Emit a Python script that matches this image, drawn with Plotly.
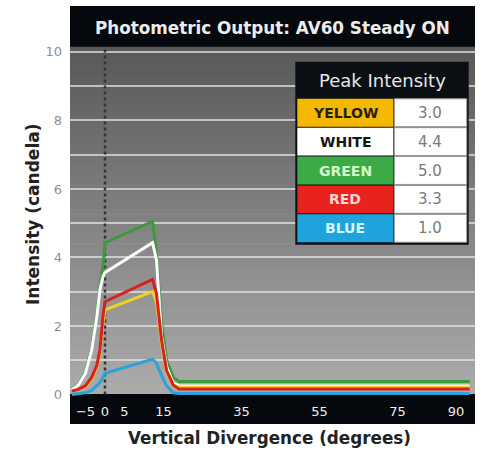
import plotly.graph_objects as go

# ---------------- data ----------------
degrees = [-8.5, -6.8, -5.0, -3.4, -2.1, -1.3, -0.5, 0.0, 12.2, 13.2, 14.5, 15.8, 17.5, 19.0, 93.5]
green  = [0.15, 0.30, 0.66, 1.35, 2.35, 3.15, 3.75, 4.43, 5.05, 4.10, 2.10, 1.00, 0.50, 0.38, 0.38]
white  = [0.13, 0.28, 0.62, 1.30, 2.27, 3.05, 3.45, 3.56, 4.43, 3.93, 1.69, 0.81, 0.33, 0.25, 0.25]
yellow = [0.10, 0.14, 0.24, 0.45, 0.80, 1.20, 2.10, 2.47, 3.00, 2.70, 1.50, 0.65, 0.27, 0.21, 0.21]
red    = [0.10, 0.15, 0.26, 0.50, 0.85, 1.30, 2.30, 2.71, 3.36, 2.95, 1.60, 0.70, 0.28, 0.16, 0.16]
blue   = [0.00, 0.02, 0.05, 0.12, 0.25, 0.35, 0.50, 0.62, 1.03, 0.91, 0.55, 0.25, 0.05, 0.03, 0.03]

x_ticks = [-5, 0, 5, 15, 35, 55, 75, 90]
y_ticks = [0, 1, 2, 3, 4, 5, 6, 7, 8, 9, 10]
y_ticktext = ["0", "", "2", "", "4", "", "6", "", "8", "", "10"]

table_names = ["YELLOW", "WHITE", "GREEN", "RED", "BLUE"]
table_peaks = ["3.0", "4.4", "5.0", "3.3", "1.0"]
table_fill = ["#f4b800", "#ffffff", "#3daa48", "#e8221c", "#1fa3dc"]
table_text = ["#2a2000", "#151515", "#d2f7cc", "#ffd6d2", "#d4f6ff"]

title_text = "Photometric Output: AV60 Steady ON"
x_title = "Vertical Divergence (degrees)"
y_title = "Intensity (candela)"

# ---------------- layout geometry ----------------
W, H = 487, 452
PL, PR, PT, PB = 70, 475, 6, 424
X_RANGE = [-8.97, 94.87]
Y_RANGE = [-0.861, 11.34]
TITLE_BAR_Y = 10.15
FONT = "DejaVu Sans"


def px(xp):
    return (xp - PL) / (PR - PL)


def py(yp):
    return (PB - yp) / (PB - PT)


fig = go.Figure()

series = [
    ("GREEN", green, "#3c9a3c"),
    ("WHITE", white, "#ffffff"),
    ("YELLOW", yellow, "#f2d21c"),
    ("RED", red, "#d8211e"),
    ("BLUE", blue, "#29a3db"),
]
for name, vals, col in series:
    fig.add_trace(go.Scatter(x=degrees, y=vals, mode="lines", name=name,
                             line=dict(color=col, width=3), showlegend=False,
                             hoverinfo="skip"))

shapes = []
# vertical gradient background
n = 60
c_bot, c_top = 172, 88
for i in range(n):
    y0 = TITLE_BAR_Y * i / n
    y1 = TITLE_BAR_Y * (i + 1) / n + 0.02
    v = round(c_bot + (c_top - c_bot) * (i + 0.5) / n)
    shapes.append(dict(type="rect", xref="x domain", yref="y", x0=0, x1=1,
                       y0=y0, y1=y1, fillcolor=f"rgb({v},{v},{v})",
                       line=dict(width=0), layer="below"))
# title bar
shapes.append(dict(type="rect", xref="x domain", yref="y domain", x0=0, x1=1,
                   y0=(TITLE_BAR_Y - Y_RANGE[0]) / (Y_RANGE[1] - Y_RANGE[0]), y1=1,
                   fillcolor="#05090d", line=dict(width=0), layer="below"))
# x axis bar
shapes.append(dict(type="rect", xref="x domain", yref="y", x0=0, x1=1,
                   y0=Y_RANGE[0], y1=0, fillcolor="#05090d",
                   line=dict(width=0), layer="below"))
# dashed line at 0
shapes.append(dict(type="line", xref="x", yref="y", x0=0, x1=0, y0=0, y1=TITLE_BAR_Y,
                   line=dict(color="#353535", width=2.5, dash="dot"), layer="between"))

# table
T_L, T_M, T_R = 297.3, 393.3, 466.7
T_TOP, T_HEAD = 61.7, 98.3
T_BOT = 242.7
row_h = (T_BOT - T_HEAD) / len(table_names)
shapes.append(dict(type="rect", xref="paper", yref="paper",
                   x0=px(T_L - 2), x1=px(T_R + 2), y0=py(T_BOT + 2), y1=py(T_TOP),
                   fillcolor="#0b0f14", line=dict(width=0), layer="above"))
annotations = []
annotations.append(dict(xref="paper", yref="paper", x=px((T_L + T_R) / 2),
                        y=py((T_TOP + T_HEAD) / 2), xanchor="center", yanchor="middle",
                        text="Peak Intensity", showarrow=False,
                        font=dict(family=FONT, size=18, color="#e6e6e6")))
for i, (nm, pk, fc, tc) in enumerate(zip(table_names, table_peaks, table_fill, table_text)):
    top = T_HEAD + i * row_h
    bot = top + row_h
    shapes.append(dict(type="rect", xref="paper", yref="paper",
                       x0=px(T_L), x1=px(T_M), y0=py(bot - 0.5), y1=py(top + 0.5),
                       fillcolor=fc, line=dict(width=0), layer="above"))
    shapes.append(dict(type="rect", xref="paper", yref="paper",
                       x0=px(T_M + 1), x1=px(T_R), y0=py(bot - 0.5), y1=py(top + 0.5),
                       fillcolor="#ffffff", line=dict(color="#9a9a9a", width=1), layer="above"))
    annotations.append(dict(xref="paper", yref="paper", x=px((T_L + T_M) / 2),
                            y=py((top + bot) / 2), xanchor="center", yanchor="middle",
                            text=f"<b>{nm}</b>", showarrow=False,
                            font=dict(family=FONT, size=14, color=tc)))
    annotations.append(dict(xref="paper", yref="paper", x=px((T_M + T_R) / 2),
                            y=py((top + bot) / 2), xanchor="center", yanchor="middle",
                            text=pk, showarrow=False,
                            font=dict(family=FONT, size=15, color="#7a7a7a")))

# chart title in the bar
annotations.append(dict(xref="paper", yref="paper", x=0.5, y=py(27.5),
                        xanchor="center", yanchor="middle",
                        text=f"<b>{title_text}</b>", showarrow=False,
                        font=dict(family=FONT, size=16.8, color="#ececec")))
# axis titles
annotations.append(dict(xref="paper", yref="paper", x=px(269), y=py(438),
                        xanchor="center", yanchor="middle",
                        text=f"<b>{x_title}</b>", showarrow=False,
                        font=dict(family=FONT, size=16.8, color="#222222")))
annotations.append(dict(xref="paper", yref="paper", x=px(33), y=py(215),
                        xanchor="center", yanchor="middle", textangle=-90,
                        text=f"<b>{y_title}</b>", showarrow=False,
                        font=dict(family=FONT, size=17, color="#222222")))

fig.update_layout(
    width=W, height=H,
    margin=dict(l=PL, r=W - PR, t=PT, b=H - PB),
    paper_bgcolor="white", plot_bgcolor="white",
    shapes=shapes, annotations=annotations,
    font=dict(family=FONT),
    hovermode=False,
    xaxis=dict(range=X_RANGE, tickvals=x_ticks, showgrid=False, zeroline=False,
               ticks="", ticklabelposition="inside", ticklabelstandoff=2,
               tickfont=dict(family=FONT, size=13, color="#f0f0f0"),
               showline=False, automargin=False),
    yaxis=dict(range=Y_RANGE, tickvals=y_ticks, ticktext=y_ticktext,
               showgrid=True, gridcolor="rgba(225,225,225,0.75)", gridwidth=2,
               zeroline=True, zerolinecolor="#05090d", zerolinewidth=1,
               ticks="", ticklabelstandoff=7, automargin=False,
               tickfont=dict(family=FONT, size=13, color="#8f8f8f")),
)

fig.write_html("out.html", config={"displayModeBar": False},
               post_script="document.body.style.margin='0px';document.body.style.overflow='hidden';")
